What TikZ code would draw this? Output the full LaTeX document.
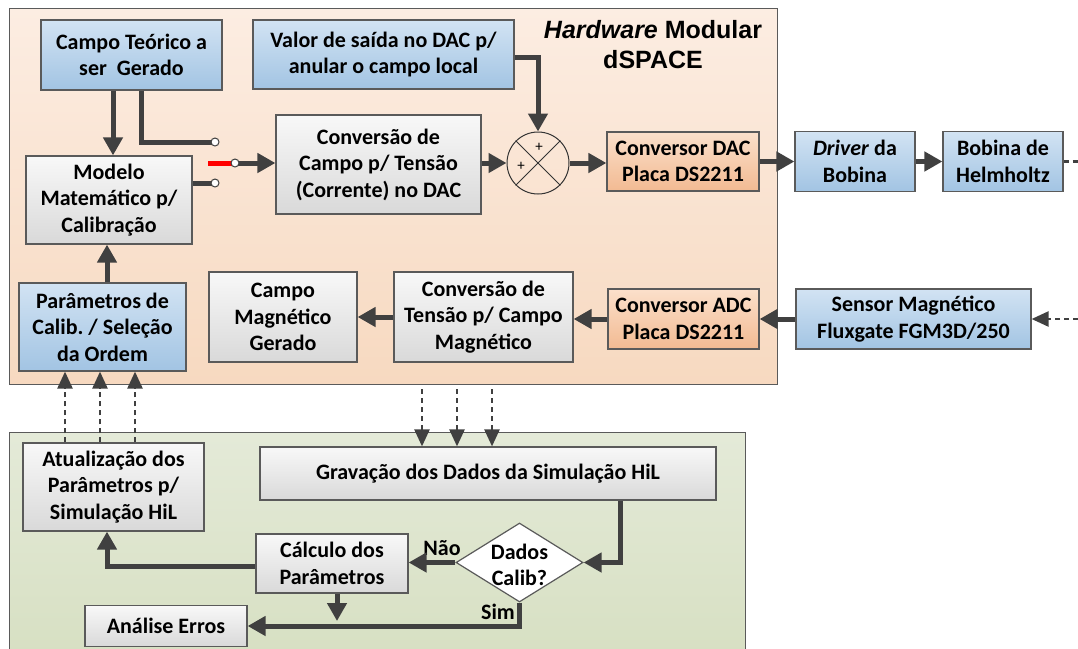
\documentclass[tikz,border=0pt]{standalone}
\usepackage{fontspec}
\setmainfont{Carlito}
\newfontfamily\arialf{Liberation Sans}
\usetikzlibrary{arrows.meta,shapes.geometric,calc}
\frenchspacing
\definecolor{arrc}{RGB}{64,64,64}
\definecolor{bordc}{RGB}{90,90,90}
\definecolor{bluetop}{RGB}{210,227,243}
\definecolor{bluebot}{RGB}{162,196,227}
\definecolor{graytop}{RGB}{248,248,248}
\definecolor{graybot}{RGB}{217,217,217}
\definecolor{ortop}{RGB}{251,224,203}
\definecolor{orbot}{RGB}{242,186,146}
\definecolor{hwtop}{RGB}{252,237,226}
\definecolor{hwbot}{RGB}{247,217,192}
\definecolor{grtop}{RGB}{228,234,216}
\definecolor{grbot}{RGB}{214,223,193}
\tikzset{
  box/.style={draw=bordc, line width=1.2pt, align=center, inner sep=0pt,
    font=\bfseries\fontsize{22}{26.5}\selectfont},
  bluebox/.style={box, top color=bluetop, bottom color=bluebot},
  graybox/.style={box, top color=graytop, bottom color=graybot},
  orbox/.style={box, top color=ortop, bottom color=orbot},
  ln/.style={draw=arrc, line width=5pt},
  arr/.style={ln, -{Triangle[length=18pt,width=19pt]}},
  dashln/.style={draw=arrc, line width=2.5pt, dash pattern=on 5pt off 4pt},
  dasharr/.style={dashln, -{Triangle[length=17pt,width=15pt]}},
  term/.style={circle, draw=arrc, fill=white, line width=1pt, minimum size=8pt, inner sep=0pt},
  lbl/.style={font=\bfseries\fontsize{22}{26.5}\selectfont, inner sep=0pt},
}
\begin{document}
\begin{tikzpicture}[x=1pt,y=-1pt]
\path[use as bounding box] (0,0) rectangle (1078,648);
\clip (0,0) rectangle (1078,648);
% containers
\node[draw=bordc, line width=1.2pt, top color=hwtop, bottom color=hwbot, minimum width=768pt, minimum height=376pt, anchor=north west, inner sep=0pt] (hw) at (9,8) {};
\node[draw=bordc, line width=1.2pt, top color=grtop, bottom color=grbot, minimum width=736pt, minimum height=240pt, anchor=north west, inner sep=0pt] (gr) at (9,432) {};
\node[font=\arialf\bfseries\fontsize{25}{30}\selectfont, align=center, inner sep=0pt] (title) at (653,45) {\textit{Hardware} Modular\\dSPACE};
% boxes
\node[bluebox, minimum width=181pt, minimum height=70pt] (ct) at (131.5,55) {Campo Teórico a\\ser~ Gerado};
\node[bluebox, minimum width=261pt, minimum height=69pt] (val) at (383.5,54.5) {Valor de saída no DAC p/\\anular o campo local};
\node[graybox, minimum width=166pt, minimum height=88pt] (mod) at (109,200) {Modelo\\Matemático p/\\Calibração};
\node[graybox, minimum width=205pt, minimum height=99pt] (conv) at (378.5,164.5) {Conversão de\\Campo p/ Tensão\\(Corrente) no DAC};
\node[circle, draw=black!80, line width=1pt, minimum size=62pt, inner sep=0pt] (sum) at (538,163) {};
\draw[black!80, line width=1pt] (sum.north west) -- (sum.south east) (sum.north east) -- (sum.south west);
\node[font=\fontsize{15}{15}\selectfont, inner sep=0pt] (pA) at (539,147) {+};
\node[font=\fontsize{15}{15}\selectfont, inner sep=0pt] (pB) at (521,166) {+};
\node[orbox, minimum width=152pt, minimum height=59pt] (dac) at (683,161.5) {Conversor DAC\\Placa DS2211};
\node[bluebox, minimum width=120pt, minimum height=60pt] (drv) at (855,161.5) {\textit{Driver} da\\Bobina};
\node[bluebox, minimum width=120pt, minimum height=60pt] (bob) at (1003,161.5) {Bobina de\\Helmholtz};
\node[bluebox, minimum width=167pt, minimum height=88pt] (par) at (102.5,327) {Parâmetros de\\Calib. / Seleção\\da Ordem};
\node[graybox, minimum width=148pt, minimum height=90pt] (cmg) at (283,317) {Campo\\Magnético\\Gerado};
\node[graybox, minimum width=179pt, minimum height=90pt] (cvt) at (483.5,317) {Conversão de\\Tensão p/ Campo\\Magnético};
\node[orbox, minimum width=151pt, minimum height=60pt] (adc) at (683.5,319) {Conversor ADC\\Placa DS2211};
\node[bluebox, minimum width=235pt, minimum height=60pt] (sen) at (913.5,319) {Sensor Magnético\\Fluxgate FGM3D/250};
\node[graybox, minimum width=181pt, minimum height=88pt] (atu) at (113.5,487) {Atualização dos\\Parâmetros p/\\Simulação HiL};
\node[graybox, minimum width=456pt, minimum height=53pt] (grv) at (488,473.5) {Gravação dos Dados da Simulação HiL};
\node[diamond, draw=bordc, line width=1.2pt, fill=white, minimum width=127pt, minimum height=79pt, inner sep=0pt] (dia) at (519.5,562.5) {};
\node[lbl, align=center] (diat) at (519.5,565) {Dados\\Calib?};
\node[graybox, minimum width=152pt, minimum height=59pt] (calc) at (332,563.5) {Cálculo dos\\Parâmetros};
\node[graybox, minimum width=162pt, minimum height=41pt] (ana) at (166,626) {Análise Erros};
\node[lbl] (nao) at (442,548) {Não};
\node[lbl] (sim) at (498,612) {Sim};
% helper coordinates
\coordinate (tA) at (215,142);
\coordinate (tB) at (215,183);
\coordinate (tC) at (235,163);
\coordinate (redS) at (208,163);
\coordinate (eR) at (1078,161.5);
\coordinate (eS) at (1078,319);
\coordinate (xA) at (113,0);
\coordinate (xB) at (141,0);
\coordinate (xP) at (107,0);
\coordinate (yV) at (0,57);
\coordinate (yC) at (0,566);
\coordinate (x620) at (620,0);
\coordinate (x337) at (337,0);
\coordinate (endC) at (337,621);
% connectors
\draw[arr] (ct.south -| xA) -- (mod.north -| xA);
\draw[ln] (ct.south -| xB) |- (tA);
\draw[ln] (mod.east |- tB) -- (tB);
\draw[red, line width=5pt] (redS) -- (tC);
\draw[arr] (tC) -- (conv.west |- tC);
\draw[arr] (conv.east |- tC) -- (sum.west);
\draw[arr] (val.east |- yV) -| (sum.north);
\draw[arr] (sum.east) -- (dac.west |- sum.east);
\draw[arr] (dac.east) -- (drv.west);
\draw[arr] (drv.east) -- (bob.west);
\draw[dashln] (bob.east) -- (eR);
\draw[dasharr] (eS) -- (sen.east);
\draw[arr] (sen.west) -- (adc.east);
\draw[arr] (adc.west) -- (cvt.east |- adc.west);
\draw[arr] (cvt.west) -- (cmg.east |- cvt.west);
\draw[arr] (par.north -| xP) -- (mod.south -| xP);
\foreach \xx in {65,100,135}{
  \coordinate (dx) at (\xx,0);
  \draw[dasharr] (atu.north -| dx) -- (par.south -| dx);
}
\foreach \xx in {422,457,492}{
  \coordinate (dx) at (\xx,0);
  \draw[dasharr] ($(hw.south -| dx)+(0,4)$) -- (grv.north -| dx);
}
\draw[arr] (grv.south -| x620) |- (dia.east);
\draw[arr] (dia.west) -- (calc.east |- dia.west);
\draw[arr] (calc.west |- yC) -| (atu.south -| xP);
\draw[arr] (dia.south) |- (ana.east);
\draw[arr] (calc.south -| x337) -- (endC);
% switch terminals
\node[term] (TA) at (tA) {};
\node[term] (TB) at (tB) {};
\node[term] (TC) at (tC) {};
\end{tikzpicture}
\end{document}
